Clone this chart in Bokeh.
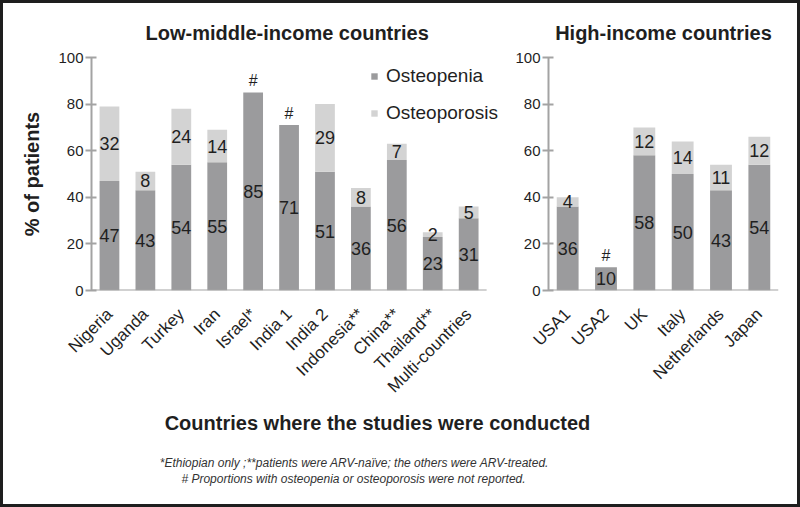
import math
from bokeh.plotting import figure
from bokeh.models import (ColumnDataSource, Range1d, Legend, LegendItem,
                          Title, LabelSet, FixedTicker)
from bokeh.layouts import column, row
from bokeh.embed import file_html
from bokeh.resources import INLINE
from bokeh.core.properties import value

# ---------------- data ----------------
lmic_countries = ["Nigeria", "Uganda", "Turkey", "Iran", "Israel*", "India 1", "India 2",
                  "Indonesia**", "China**", "Thailand**", "Multi-countries"]
lmic_osteopenia = [47, 43, 54, 55, 85, 71, 51, 36, 56, 23, 31]
lmic_osteoporosis = [32, 8, 24, 14, 0, 0, 29, 8, 7, 2, 5]
lmic_not_reported = [False, False, False, False, True, True, False, False, False, False, False]

hic_countries = ["USA1", "USA2", "UK", "Italy", "Netherlands", "Japan"]
hic_osteopenia = [36, 10, 58, 50, 43, 54]
hic_osteoporosis = [4, 0, 12, 14, 11, 12]
hic_not_reported = [False, True, False, False, False, False]

y_ticks = [0, 20, 40, 60, 80, 100]

# ---------------- style ----------------
DARK = "#9b9b9d"
LIGHT = "#d3d3d3"
AXIS = "#a3a3a3"
TXT = "#1f1f1f"
FONT = "Liberation Sans"


def make_panel(cats, pen, por, nr, width, height, bl, br, bt, bb, bar_w, extra):
    n = len(cats)
    xs = list(range(1, n + 1))
    p = figure(width=width, height=height, x_range=Range1d(0.5, n + 0.5 + extra),
               y_range=Range1d(0, 100), output_backend="svg", toolbar_location=None,
               min_border_left=bl, min_border_right=br, min_border_top=bt,
               min_border_bottom=bb, background_fill_color="white",
               border_fill_color="white", outline_line_color=None)
    src = ColumnDataSource(dict(
        x=xs, osteopenia=pen, osteoporosis=por,
        pen_y=[v / 2 for v in pen],
        pen_t=[str(v) for v in pen],
    ))
    rs = p.vbar_stack(["osteopenia", "osteoporosis"], x="x", width=bar_w, source=src,
                      color=[DARK, LIGHT], line_color=None)
    # category baseline (x axis line)
    p.segment(x0=[0.5], y0=[0], x1=[n + 0.5], y1=[0], line_color=AXIS, line_width=2)
    # labels
    lab = dict(text_align="center", text_baseline="middle",
               text_font=value(FONT), text_color=TXT)
    p.add_layout(LabelSet(x="x", y="pen_y", text="pen_t", source=src,
                          text_font_size="18px", **lab))
    por_x = [x for x, v in zip(xs, por) if v > 0]
    por_y = [a + b / 2 for a, b in zip(pen, por) if b > 0]
    por_t = [str(b) for b in por if b > 0]
    src2 = ColumnDataSource(dict(x=por_x, y=por_y, t=por_t))
    p.add_layout(LabelSet(x="x", y="y", text="t", source=src2,
                          text_font_size="18px", **lab))
    nr_x = [x for x, f in zip(xs, nr) if f]
    nr_y = [a + b + 5 for a, b, f in zip(pen, por, nr) if f]
    src3 = ColumnDataSource(dict(x=nr_x, y=nr_y, t=["#"] * len(nr_x)))
    p.add_layout(LabelSet(x="x", y="y", text="t", source=src3,
                          text_font_size="16px", **lab))

    p.xgrid.visible = False
    p.ygrid.visible = False
    p.yaxis.ticker = FixedTicker(ticks=y_ticks)
    p.yaxis.minor_tick_line_color = None
    p.yaxis.major_tick_in = 5
    p.yaxis.major_tick_out = 6
    p.yaxis.axis_line_color = AXIS
    p.yaxis.axis_line_width = 2
    p.yaxis.major_tick_line_color = AXIS
    p.yaxis.major_tick_line_width = 2
    p.yaxis.major_label_text_font = FONT
    p.yaxis.major_label_text_font_size = "15px"
    p.yaxis.major_label_text_color = TXT
    p.yaxis.major_label_standoff = 2
    p.xaxis.ticker = FixedTicker(ticks=xs)
    p.xaxis.major_label_overrides = {x: c for x, c in zip(xs, cats)}
    p.xaxis.axis_line_color = None
    p.xaxis.major_tick_line_color = None
    p.xaxis.minor_tick_line_color = None
    p.xaxis.major_label_orientation = math.pi / 4
    p.xaxis.major_label_text_font = FONT
    p.xaxis.major_label_text_font_size = "17px"
    p.xaxis.major_label_text_color = TXT
    p.xaxis.major_label_standoff = 15
    return p, rs


def add_title(p, text, align, offset):
    p.add_layout(Title(text=text, align=align, offset=offset, text_font=FONT,
                       text_font_size="20px", text_font_style="bold", text_color=TXT,
                       standoff=27), "above")


H = 407
W1 = 500
W2 = 294
BB = H - 287
# left panel: frame from 88 to 500 (range extended past the last category so the legend fits)
p1, rs1 = make_panel(lmic_countries, lmic_osteopenia, lmic_osteoporosis, lmic_not_reported,
                     W1, H, 88, 0, 54, BB, 0.55, 0.47)
add_title(p1, "Low-middle-income countries", "left", 54)
p1.yaxis.axis_label = "% of patients"
p1.yaxis.axis_label_text_font = FONT
p1.yaxis.axis_label_text_font_size = "20px"
p1.yaxis.axis_label_text_font_style = "bold"
p1.yaxis.axis_label_text_color = TXT
p1.yaxis.axis_label_standoff = 12

legend = Legend(items=[LegendItem(label="Osteopenia", renderers=[rs1[0]]),
                       LegendItem(label="Osteoporosis", renderers=[rs1[1]])],
                location=(279, 166), orientation="vertical",
                glyph_width=8, glyph_height=8, label_standoff=8, spacing=15,
                label_height=20, padding=0, margin=0,
                label_text_font=FONT, label_text_font_size="19px", label_text_color=TXT,
                border_line_color=None, background_fill_alpha=0)
p1.add_layout(legend, "center")

p2, rs2 = make_panel(hic_countries, hic_osteopenia, hic_osteoporosis, hic_not_reported,
                     W2, H, 45, 19, 54, BB, 0.57, 0.0)
add_title(p2, "High-income countries", "center", 0)

# bottom text panel
W3 = W1 + W2
H3 = 501 - H
p3 = figure(width=W3, height=H3, x_range=Range1d(0, W3), y_range=Range1d(H3, 0),
            output_backend="svg", toolbar_location=None, min_border=0,
            outline_line_color=None)
p3.axis.visible = False
p3.grid.visible = False
p3.text(x=[374], y=[12], text=["Countries where the studies were conducted"],
        text_align="center", text_baseline="middle", text_font=value(FONT),
        text_font_size="20px", text_font_style="bold", text_color=TXT)
p3.text(x=[351, 350], y=[52, 68],
        text=["*Ethiopian only ;**patients were ARV-na\u00efve; the others were ARV-treated.",
              "# Proportions with osteopenia or osteoporosis were not reported."],
        text_align="center", text_baseline="middle", text_font=value(FONT),
        text_font_size="12px", text_font_style="italic", text_color="#333333")

layout = column(row(p1, p2), p3, styles={"border": "3px solid #1e1e1e"})

open("out.html", "w").write(file_html(layout, INLINE))
